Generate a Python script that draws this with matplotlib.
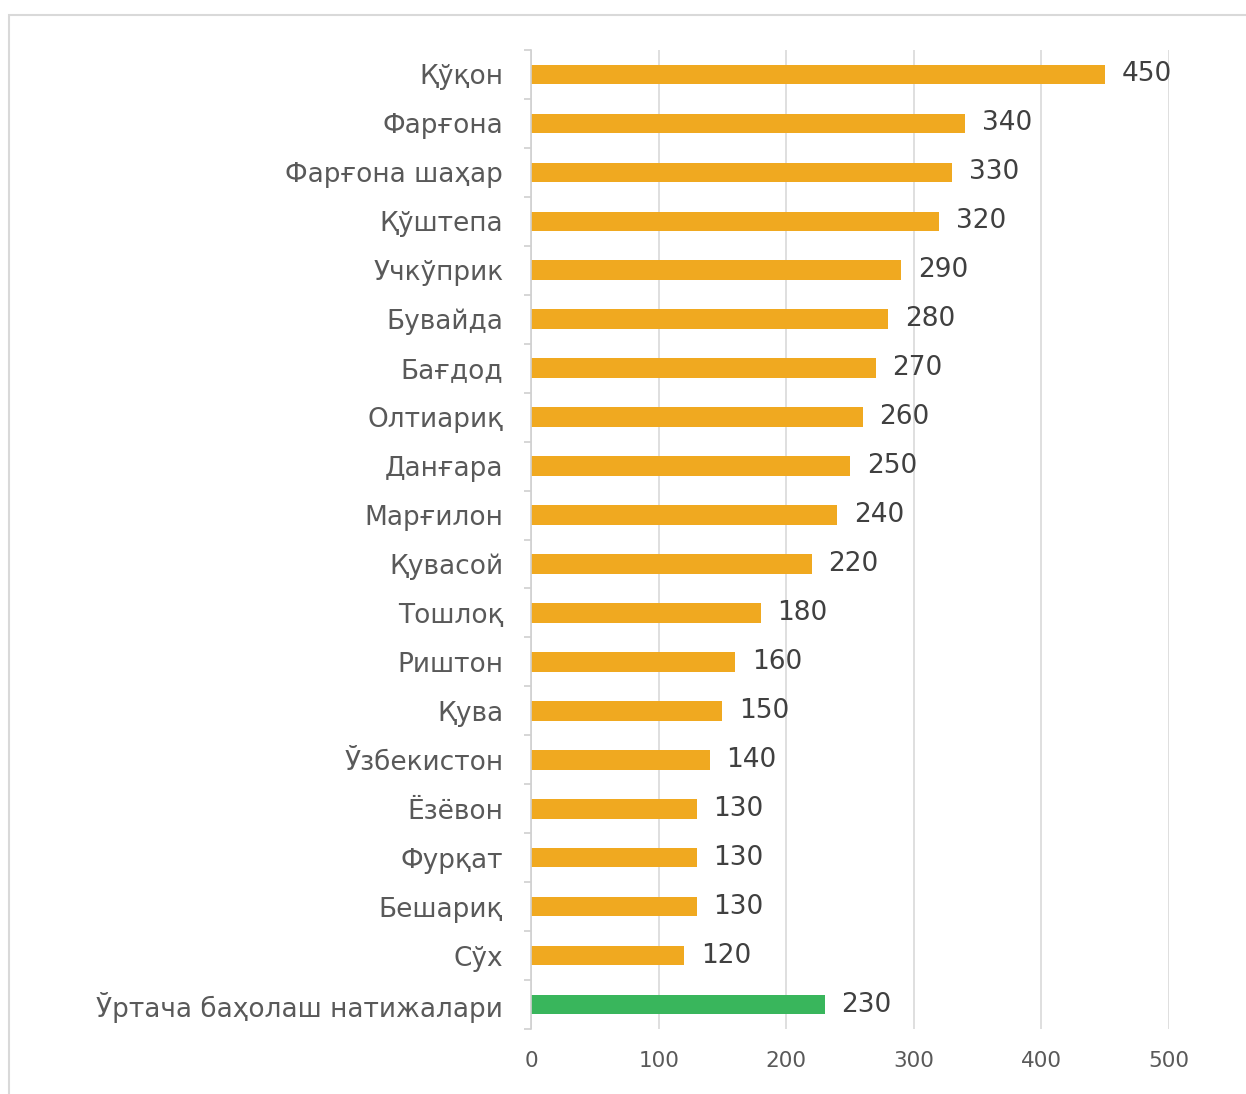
import matplotlib
matplotlib.use("Agg")
import matplotlib.pyplot as plt
import numpy as np
from matplotlib.patches import Rectangle

# Маълумотлар
districts = ["Қўқон", "Фарғона", "Фарғона шаҳар", "Қўштепа", "Учкўприк", "Бувайда",
             "Бағдод", "Олтиариқ", "Данғара", "Марғилон", "Қувасой", "Тошлоқ",
             "Риштон", "Қува", "Ўзбекистон", "Ёзёвон", "Фурқат", "Бешариқ", "Сўх",
             "Ўртача баҳолаш натижалари"]
scores = [450, 340, 330, 320, 290, 280, 270, 260, 250, 240, 220, 180,
          160, 150, 140, 130, 130, 130, 120, 230]
bar_colors = ["#F0A920"] * 19 + ["#39B65C"]
x_ticks = [0, 100, 200, 300, 400, 500]

plt.rcParams['font.family'] = ['DejaVu Sans']

fig = plt.figure(figsize=(12.46, 10.94), dpi=100)
ax = fig.add_axes([0.4262, 0.0594, 0.512, 0.8949])

y = np.arange(len(districts))
bars = ax.barh(y, scores, height=0.4, color=bar_colors, zorder=3)
ax.set_ylim(len(districts) - 0.5, -0.5)
ax.set_xlim(0, 500)

ax.set_yticks(y)
ax.set_yticklabels(districts, fontsize=19, color="#595959")
ax.set_yticks(np.arange(-0.5, len(districts)), minor=True)
ax.tick_params(axis="y", which="major", length=0, pad=20)
ax.tick_params(axis="y", which="minor", length=5, color="#D0D0D0", width=1.2)

ax.set_xticks(x_ticks)
ax.set_xticklabels([str(t) for t in x_ticks], fontsize=15.5, color="#595959")
ax.tick_params(axis="x", length=0, pad=16)
ax.grid(axis="x", color="#D9D9D9", linewidth=1.2, zorder=0)

for s in ["top", "right", "bottom"]:
    ax.spines[s].set_visible(False)
ax.spines["left"].set_color("#D0D0D0")
ax.spines["left"].set_linewidth(1.2)
ax.spines["left"].set_zorder(4)

ax.bar_label(bars, labels=[str(v) for v in scores], padding=12,
             fontsize=19, color="#404040")

# рамка
fig.patches.append(Rectangle((9 / 1246, -0.05), 1.1, 1 - 15 / 1094 + 0.05,
                             transform=fig.transFigure, fill=False,
                             edgecolor="#D9D9D9", linewidth=1.5))

fig.savefig("out.png", dpi=100)
